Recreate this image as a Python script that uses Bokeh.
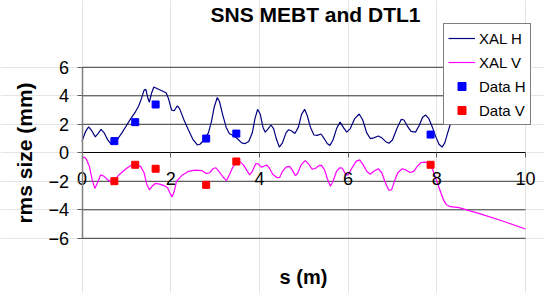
from bokeh.plotting import figure
from bokeh.models import Range1d, Legend, LegendItem, Label, FixedTicker, LinearAxis
from bokeh.embed import file_html
from bokeh.resources import INLINE

# ---- data ----
xal_h_s = [0.00, 0.08, 0.15, 0.22, 0.30, 0.36, 0.43, 0.50, 0.58, 0.66, 0.72, 0.80, 0.90, 1.00,
           1.10, 1.20, 1.28, 1.34, 1.40, 1.44, 1.48, 1.52, 1.57, 1.62, 1.70, 1.80, 1.90, 1.95,
           2.02, 2.08, 2.15, 2.20, 2.30, 2.40, 2.50, 2.60, 2.66, 2.75, 2.85, 2.92, 2.98, 3.05,
           3.10, 3.17, 3.25, 3.32, 3.42, 3.50, 3.60, 3.68, 3.76, 3.84, 3.90, 3.96, 4.02, 4.08,
           4.13, 4.20, 4.26, 4.32, 4.38, 4.45, 4.52, 4.60, 4.66, 4.72, 4.80, 4.88, 4.95, 5.02,
           5.08, 5.15, 5.23, 5.30, 5.39, 5.46, 5.53, 5.59, 5.66, 5.74, 5.82, 5.90, 5.97, 6.05,
           6.15, 6.25, 6.33, 6.42, 6.50, 6.58, 6.68, 6.76, 6.85, 6.92, 7.00, 7.10, 7.20, 7.26,
           7.34, 7.42, 7.52, 7.60, 7.68, 7.75, 7.82, 7.90, 7.98, 8.05, 8.12, 8.18, 8.24, 8.30,
           8.36]
xal_h_v = [0.80, 1.50, 1.82, 1.55, 1.12, 1.35, 1.65, 1.40, 0.90, 0.60, 0.68, 0.95, 1.40, 1.90,
           2.40, 2.85, 3.30, 3.80, 4.40, 4.45, 3.90, 3.55, 4.20, 4.62, 4.50, 4.35, 4.20, 3.80,
           3.00, 2.95, 3.30, 3.10, 2.30, 1.60, 0.95, 0.55, 0.60, 0.90, 1.40, 2.20, 3.20, 3.88,
           3.60, 2.70, 1.80, 1.35, 1.20, 1.00, 0.70, 0.65, 0.80, 1.40, 2.40, 3.05, 2.70, 1.80,
           1.45, 1.70, 1.95, 1.70, 1.00, 0.40, 0.70, 1.40, 1.62, 1.55, 1.35, 1.80, 2.70, 3.05,
           2.60, 1.80, 1.25, 1.22, 1.32, 1.00, 0.65, 0.52, 0.90, 1.70, 2.15, 1.75, 1.45, 1.70,
           2.40, 2.72, 2.30, 1.40, 1.00, 1.05, 1.18, 1.05, 0.78, 0.67, 0.90, 1.70, 2.35, 2.30,
           1.85, 1.50, 1.45, 1.90, 2.50, 2.65, 2.40, 1.80, 1.10, 0.60, 0.40, 0.70, 1.35, 1.95,
           2.60]

xal_v_s = [0.00, 0.05, 0.10, 0.17, 0.23, 0.29, 0.35, 0.42, 0.50, 0.58, 0.66, 0.73, 0.85, 1.00,
           1.12, 1.22, 1.32, 1.40, 1.46, 1.52, 1.58, 1.65, 1.75, 1.85, 1.93, 1.98, 2.03, 2.08,
           2.13, 2.25, 2.40, 2.55, 2.70, 2.80, 2.88, 2.96, 3.02, 3.10, 3.18, 3.26, 3.33, 3.40,
           3.48, 3.56, 3.64, 3.72, 3.78, 3.84, 3.92, 3.98, 4.04, 4.10, 4.16, 4.22, 4.30, 4.40,
           4.46, 4.52, 4.60, 4.68, 4.74, 4.81, 4.86, 4.94, 5.03, 5.10, 5.19, 5.26, 5.34, 5.40,
           5.47, 5.53, 5.60, 5.66, 5.74, 5.81, 5.87, 5.95, 6.00, 6.08, 6.18, 6.26, 6.34, 6.42,
           6.50, 6.58, 6.68, 6.76, 6.84, 6.92, 6.98, 7.05, 7.12, 7.22, 7.30, 7.40, 7.48, 7.56,
           7.64, 7.72, 7.80, 7.86, 7.92, 8.00, 8.08, 8.15, 8.22, 8.30, 8.50, 9.00, 9.50, 10.00]
xal_v_v = [-0.40, -0.30, -0.45, -1.00, -1.90, -2.50, -2.10, -1.55, -1.65, -1.90, -2.05, -1.90,
           -1.50, -1.10, -0.85, -0.82, -0.95, -1.40, -2.20, -2.60, -2.35, -2.15, -2.20, -2.30,
           -2.45, -2.80, -3.10, -2.70, -2.00, -1.60, -1.30, -1.22, -1.25, -1.45, -1.40, -1.10,
           -1.05, -1.35, -1.70, -1.95, -1.50, -1.00, -0.65, -0.62, -0.85, -1.25, -1.55, -1.30,
           -0.75, -0.80, -1.00, -0.95, -0.85, -1.05, -1.50, -1.75, -1.72, -1.30, -1.00, -0.95,
           -1.20, -1.60, -1.45, -0.85, -0.55, -0.75, -1.15, -1.10, -0.90, -0.88, -1.20, -1.80,
           -2.35, -2.00, -1.30, -1.05, -1.08, -1.55, -1.55, -1.10, -0.60, -0.50, -0.85, -1.30,
           -1.50, -1.30, -1.12, -1.40, -2.10, -2.62, -2.60, -1.95, -1.40, -1.12, -1.20, -1.38,
           -1.30, -0.95, -0.70, -0.65, -0.68, -0.85, -1.30, -2.00, -2.70, -3.30, -3.65, -3.78,
           -3.85, -4.30, -4.80, -5.35]

data_h_s = [0.73, 1.20, 1.66, 2.80, 3.48, 7.86]
data_h_v = [0.82, 2.15, 3.39, 1.00, 1.35, 1.28]
data_v_s = [0.73, 1.20, 1.66, 2.80, 3.48, 7.86]
data_v_v = [-1.99, -0.84, -1.12, -2.25, -0.61, -0.84]

x_ticks = [0, 2, 4, 6, 8, 10]
y_ticks = [-6, -4, -2, 0, 2, 4, 6]
grid_ticks = [-6, -4, -2, 2, 4, 6]

title_text = "SNS MEBT and DTL1"
x_label = "s (m)"
y_label = "rms size (mm)"

FONT = "Liberation Sans"

# ---- layout (pixels) ----
W, H = 544, 293
PX_LEFT, PX_RIGHT = 81.5, 525.0      # screen x of s=0 and s=10
PX_ZERO, PX_PER_Y = 152.3, 14.25     # screen y of 0, pixels per mm

x_scale = (PX_RIGHT - PX_LEFT) / (x_ticks[-1] - x_ticks[0])
x_lo = x_ticks[0] - PX_LEFT / x_scale
x_hi = x_lo + W / x_scale
y_hi = PX_ZERO / PX_PER_Y
y_lo = y_hi - H / PX_PER_Y

p = figure(width=W, height=H, output_backend="svg", toolbar_location=None,
           x_range=Range1d(x_lo, x_hi), y_range=Range1d(y_lo, y_hi),
           x_axis_location=None, y_axis_location=None, min_border=0)
p.outline_line_color = None
p.background_fill_color = "white"
p.border_fill_color = "white"

# horizontal gridlines spanning the axis extent only
p.segment(x0=[x_ticks[0]] * len(grid_ticks), x1=[x_ticks[-1]] * len(grid_ticks),
          y0=grid_ticks, y1=grid_ticks, line_color="#3a3a3a", line_width=1)

# series
r_h = p.line(xal_h_s, xal_h_v, line_color="#000080", line_width=1.2)
r_v = p.line(xal_v_s, xal_v_v, line_color="#FF00FF", line_width=1.2)
r_dh = p.scatter(data_h_s, data_h_v, marker="square", size=7, fill_color="#0000FF",
                 line_color="#0000FF")
r_dv = p.scatter(data_v_s, data_v_v, marker="square", size=7, fill_color="#FF0000",
                 line_color="#FF0000")

# x axis crossing at y = 0
xa = LinearAxis(fixed_location=0, bounds=(x_ticks[0], x_ticks[-1]),
                ticker=FixedTicker(ticks=x_ticks))
xa.axis_line_color = "black"
xa.axis_line_width = 1
xa.major_tick_line_color = "#606060"
xa.major_tick_in = 0
xa.major_tick_out = 5
xa.minor_tick_line_color = None
xa.major_label_standoff = 14
xa.major_label_text_font = FONT
xa.major_label_text_font_size = "18px"
xa.major_label_text_color = "black"
p.add_layout(xa, "below")

# y axis at s = 0
ya = LinearAxis(fixed_location=0, bounds=(y_ticks[0], y_ticks[-1]),
                ticker=FixedTicker(ticks=y_ticks))
ya.axis_line_color = "#808080"
ya.axis_line_width = 1.5
ya.major_tick_line_color = "#606060"
ya.major_tick_in = 0
ya.major_tick_out = 5
ya.minor_tick_line_color = None
ya.major_label_standoff = 8
ya.major_label_text_font = FONT
ya.major_label_text_font_size = "18px"
ya.major_label_text_color = "black"
ya.axis_label = y_label
ya.axis_label_text_font = FONT
ya.axis_label_text_font_size = "21px"
ya.axis_label_text_font_style = "bold"
ya.axis_label_text_color = "black"
ya.axis_label_standoff = 10
p.add_layout(ya, "left")

legend = Legend(items=[LegendItem(label="XAL H", renderers=[r_h]),
                       LegendItem(label="XAL V", renderers=[r_v]),
                       LegendItem(label="Data H", renderers=[r_dh]),
                       LegendItem(label="Data V", renderers=[r_dv])],
                location=(443, H - 125), orientation="vertical",
                border_line_color="black", border_line_width=1,
                background_fill_color="white", background_fill_alpha=1.0,
                padding=4, spacing=4, margin=0,
                label_text_font=FONT, label_text_font_size="15px", label_text_color="black",
                label_height=20, glyph_height=20, glyph_width=27, label_standoff=4)
p.add_layout(legend)

p.add_layout(Label(x=315, y=H - 14, x_units="screen", y_units="screen",
                   text=title_text, text_font=FONT, text_font_size="21px",
                   text_font_style="bold", text_align="center", text_baseline="middle",
                   text_color="black"))
p.add_layout(Label(x=303, y=H - 276, x_units="screen", y_units="screen",
                   text=x_label, text_font=FONT, text_font_size="20px",
                   text_font_style="bold", text_align="center", text_baseline="middle",
                   text_color="black"))

open("out.html", "w").write(file_html(p, INLINE))
